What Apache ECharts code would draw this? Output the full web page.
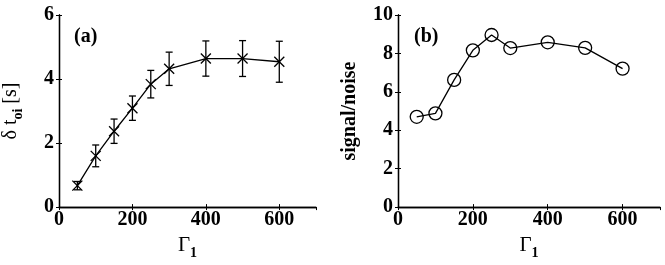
<!DOCTYPE html>
<html><head><meta charset="utf-8">
<script src="https://cdn.jsdelivr.net/npm/echarts@6/dist/echarts.min.js"></script>
<style>html,body{margin:0;padding:0;background:#fff}#c{width:665px;height:265px}</style>
</head><body><div id="c"></div>
<script>
var gamma = [50, 100, 150, 200, 250, 300, 400, 500, 600];
var deltaT = [0.67, 1.60, 2.37, 3.09, 3.84, 4.32, 4.64, 4.64, 4.54];
var deltaTErr = [0.13, 0.34, 0.38, 0.38, 0.43, 0.52, 0.55, 0.56, 0.64];
var snr = [4.70, 4.88, 6.62, 8.16, 8.96, 8.28, 8.58, 8.29, 7.21];
var xTicks = [0, 200, 400, 600];
var yTicksA = [0, 2, 4, 6];
var yTicksB = [0, 2, 4, 6, 8, 10];

var serif = 'Liberation Serif';
var tickFont = {fontFamily: serif, fontWeight: 'bold', fontSize: 20, color: '#000'};

function xAx(gi, pos, show) {
  return {
    type: 'value', gridIndex: gi, position: pos, min: 0, max: 700, interval: 200,
    axisLine: {show: true, lineStyle: {color: '#000', width: 1.3}},
    axisTick: {show: true, inside: true, length: 3, lineStyle: {color: '#000'}},
    splitLine: {show: false},
    axisLabel: Object.assign({show: show, margin: 3, showMaxLabel: false,
      formatter: function (v) { return xTicks.indexOf(v) >= 0 ? String(v) : ''; }}, tickFont),
    name: show ? '{m|Γ}{s|1}' : '', nameLocation: 'middle', nameGap: 27,
    nameTextStyle: {rich: {
      m: {fontFamily: serif, fontSize: 21, color: '#000', lineHeight: 21, verticalAlign: 'top'},
      s: {fontFamily: serif, fontSize: 14, fontWeight: 'bold', color: '#000', lineHeight: 14, padding: [11, 0, 0, 0], verticalAlign: 'top'}
    }}
  };
}
function yAx(gi, pos, show, max, interval, ticks, name, rich) {
  return {
    type: 'value', gridIndex: gi, position: pos, min: 0, max: max, interval: interval,
    axisLine: {show: true, lineStyle: {color: '#000', width: 1.3}},
    axisTick: {show: true, inside: true, length: 3, lineStyle: {color: '#000'}},
    splitLine: {show: false},
    axisLabel: Object.assign({show: show, margin: 5,
      formatter: function (v) { return ticks.indexOf(v) >= 0 ? String(v) : ''; }}, tickFont),
    name: show ? name : '', nameLocation: 'middle', nameGap: 38, nameRotate: 90,
    nameTextStyle: rich
  };
}

var errData = gamma.map(function (g, i) { return [g, deltaT[i], deltaTErr[i]]; });

var option = {
  animation: false,
  backgroundColor: '#fff',
  grid: [
    {left: 55, top: 15, width: 261, height: 199},
    {left: 398, top: 15, width: 262, height: 199}
  ],
  xAxis: [xAx(0, 'bottom', true), xAx(0, 'top', false), xAx(1, 'bottom', true), xAx(1, 'top', false)],
  yAxis: [
    yAx(0, 'left', true, 6, 2, yTicksA, '{m|δ t}{s|oi}{m| [s]}', {rich: {
      m: {fontFamily: serif, fontSize: 20, color: '#000', lineHeight: 20, verticalAlign: 'top'},
      s: {fontFamily: serif, fontSize: 14, fontWeight: 'bold', color: '#000', lineHeight: 14, padding: [10, 0, 0, 0], verticalAlign: 'top'}
    }}),
    yAx(0, 'right', false, 6, 2, yTicksA, '', {}),
    yAx(1, 'left', true, 10, 2, yTicksB, 'signal/noise', {fontFamily: serif, fontWeight: 'bold', fontSize: 20, color: '#000'}),
    yAx(1, 'right', false, 10, 2, yTicksB, '', {})
  ],
  graphic: [
    {type: 'text', left: 74, top: 27, style: {text: '(a)', fontFamily: serif, fontWeight: 'bold', fontSize: 20, fill: '#000'}},
    {type: 'text', left: 414, top: 27, style: {text: '(b)', fontFamily: serif, fontWeight: 'bold', fontSize: 20, fill: '#000'}}
  ],
  series: [
    {
      type: 'line', xAxisIndex: 0, yAxisIndex: 0, showSymbol: false, symbol: 'none',
      data: gamma.map(function (g, i) { return [g, deltaT[i]]; }),
      lineStyle: {color: '#000', width: 1.3}
    },
    {
      type: 'custom', xAxisIndex: 0, yAxisIndex: 0, data: errData,
      renderItem: function (params, api) {
        var x = api.value(0), y = api.value(1), e = api.value(2);
        var c = api.coord([x, y]);
        var hi = api.coord([x, y + e]);
        var lo = api.coord([x, y - e]);
        var cap = 3.5, m = 5;
        var st = {stroke: '#000', lineWidth: 1.3};
        return {type: 'group', children: [
          {type: 'line', shape: {x1: hi[0], y1: hi[1], x2: lo[0], y2: lo[1]}, style: st},
          {type: 'line', shape: {x1: hi[0] - cap, y1: hi[1], x2: hi[0] + cap, y2: hi[1]}, style: st},
          {type: 'line', shape: {x1: lo[0] - cap, y1: lo[1], x2: lo[0] + cap, y2: lo[1]}, style: st},
          {type: 'line', shape: {x1: c[0] - m, y1: c[1] - m, x2: c[0] + m, y2: c[1] + m}, style: st},
          {type: 'line', shape: {x1: c[0] - m, y1: c[1] + m, x2: c[0] + m, y2: c[1] - m}, style: st}
        ]};
      }
    },
    {
      type: 'line', xAxisIndex: 2, yAxisIndex: 2, symbol: 'circle', symbolSize: 13, showSymbol: true,
      data: gamma.map(function (g, i) { return [g, snr[i]]; }),
      lineStyle: {color: '#000', width: 1.3},
      itemStyle: {color: 'rgba(0,0,0,0)', borderColor: '#000', borderWidth: 1.3}
    }
  ]
};
echarts.init(document.getElementById('c'), null, {renderer: 'canvas'}).setOption(option);
</script>
</body></html>
